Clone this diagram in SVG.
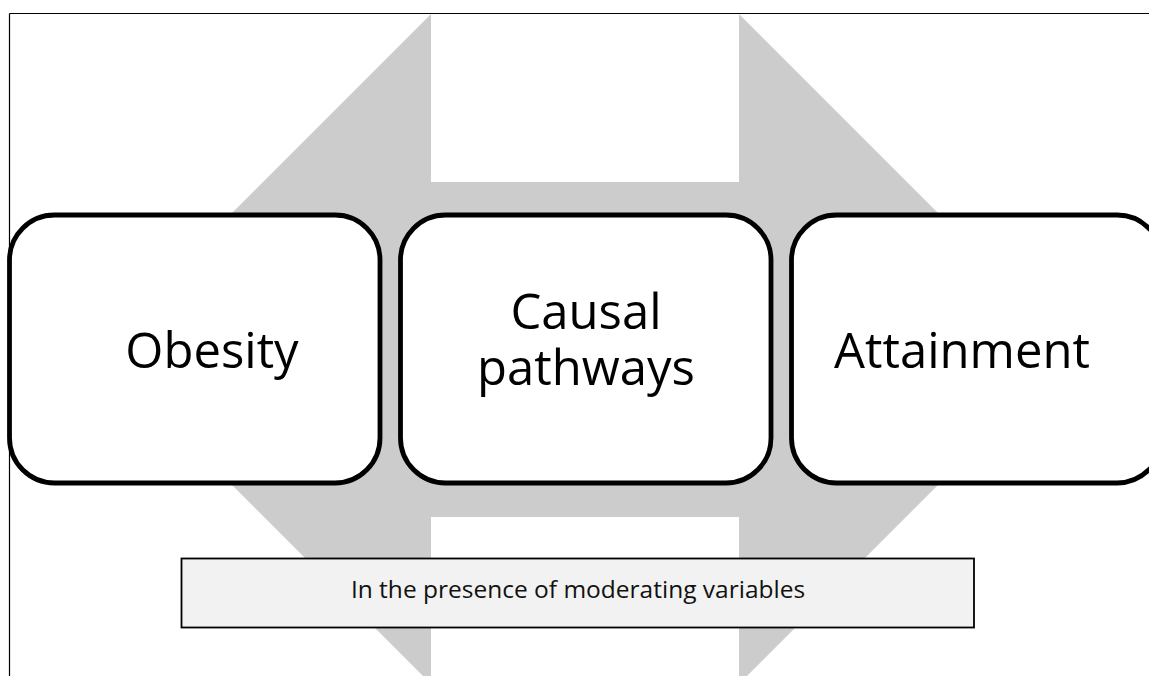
<svg xmlns="http://www.w3.org/2000/svg" width="1149" height="676" viewBox="0 0 1149 676">
<style>
.node rect{fill:#ffffff;stroke:#000000;stroke-width:4.8}
.big{font-family:"Open Sans","Noto Sans",sans-serif;font-size:49px;fill:#000;text-anchor:middle}
.small{font-family:"Open Sans","Noto Sans",sans-serif;font-size:24.5px;fill:#111;text-anchor:middle}
</style>
<rect x="0" y="0" width="1149" height="676" fill="#ffffff"/>
<g id="background-arrows">
<polygon points="96,349 431,14 431,182 739,182 739,14 1074,349 739,684 739,517 431,517 431,684" fill="#cccccc"/>
</g>
<g id="connectors"></g>
<g id="node-obesity" class="node">
<rect x="9.5" y="215" width="370.5" height="268" rx="45" ry="45"/>
<text class="big" x="212" y="368">Obesity</text>
</g>
<g id="node-causal" class="node">
<rect x="400.5" y="215" width="370.5" height="268" rx="45" ry="45"/>
<text class="big" x="586" y="329">Causal</text>
<text class="big" x="586" y="385">pathways</text>
</g>
<g id="node-attainment" class="node">
<rect x="791.5" y="215" width="370.5" height="268" rx="45" ry="45"/>
<text class="big" x="962" y="368">Attainment</text>
</g>
<g id="node-moderating">
<rect x="181.5" y="558.5" width="792.5" height="69" fill="#f2f2f2" stroke="#000" stroke-width="1.8"/>
<text class="small" x="578" y="598">In the presence of moderating variables</text>
</g>
<g id="frame">
<line x1="9.5" y1="13.5" x2="1149" y2="13.5" stroke="#000" stroke-width="1.2"/>
<line x1="9.5" y1="13.5" x2="9.5" y2="676" stroke="#000" stroke-width="1.2"/>
</g>
</svg>
